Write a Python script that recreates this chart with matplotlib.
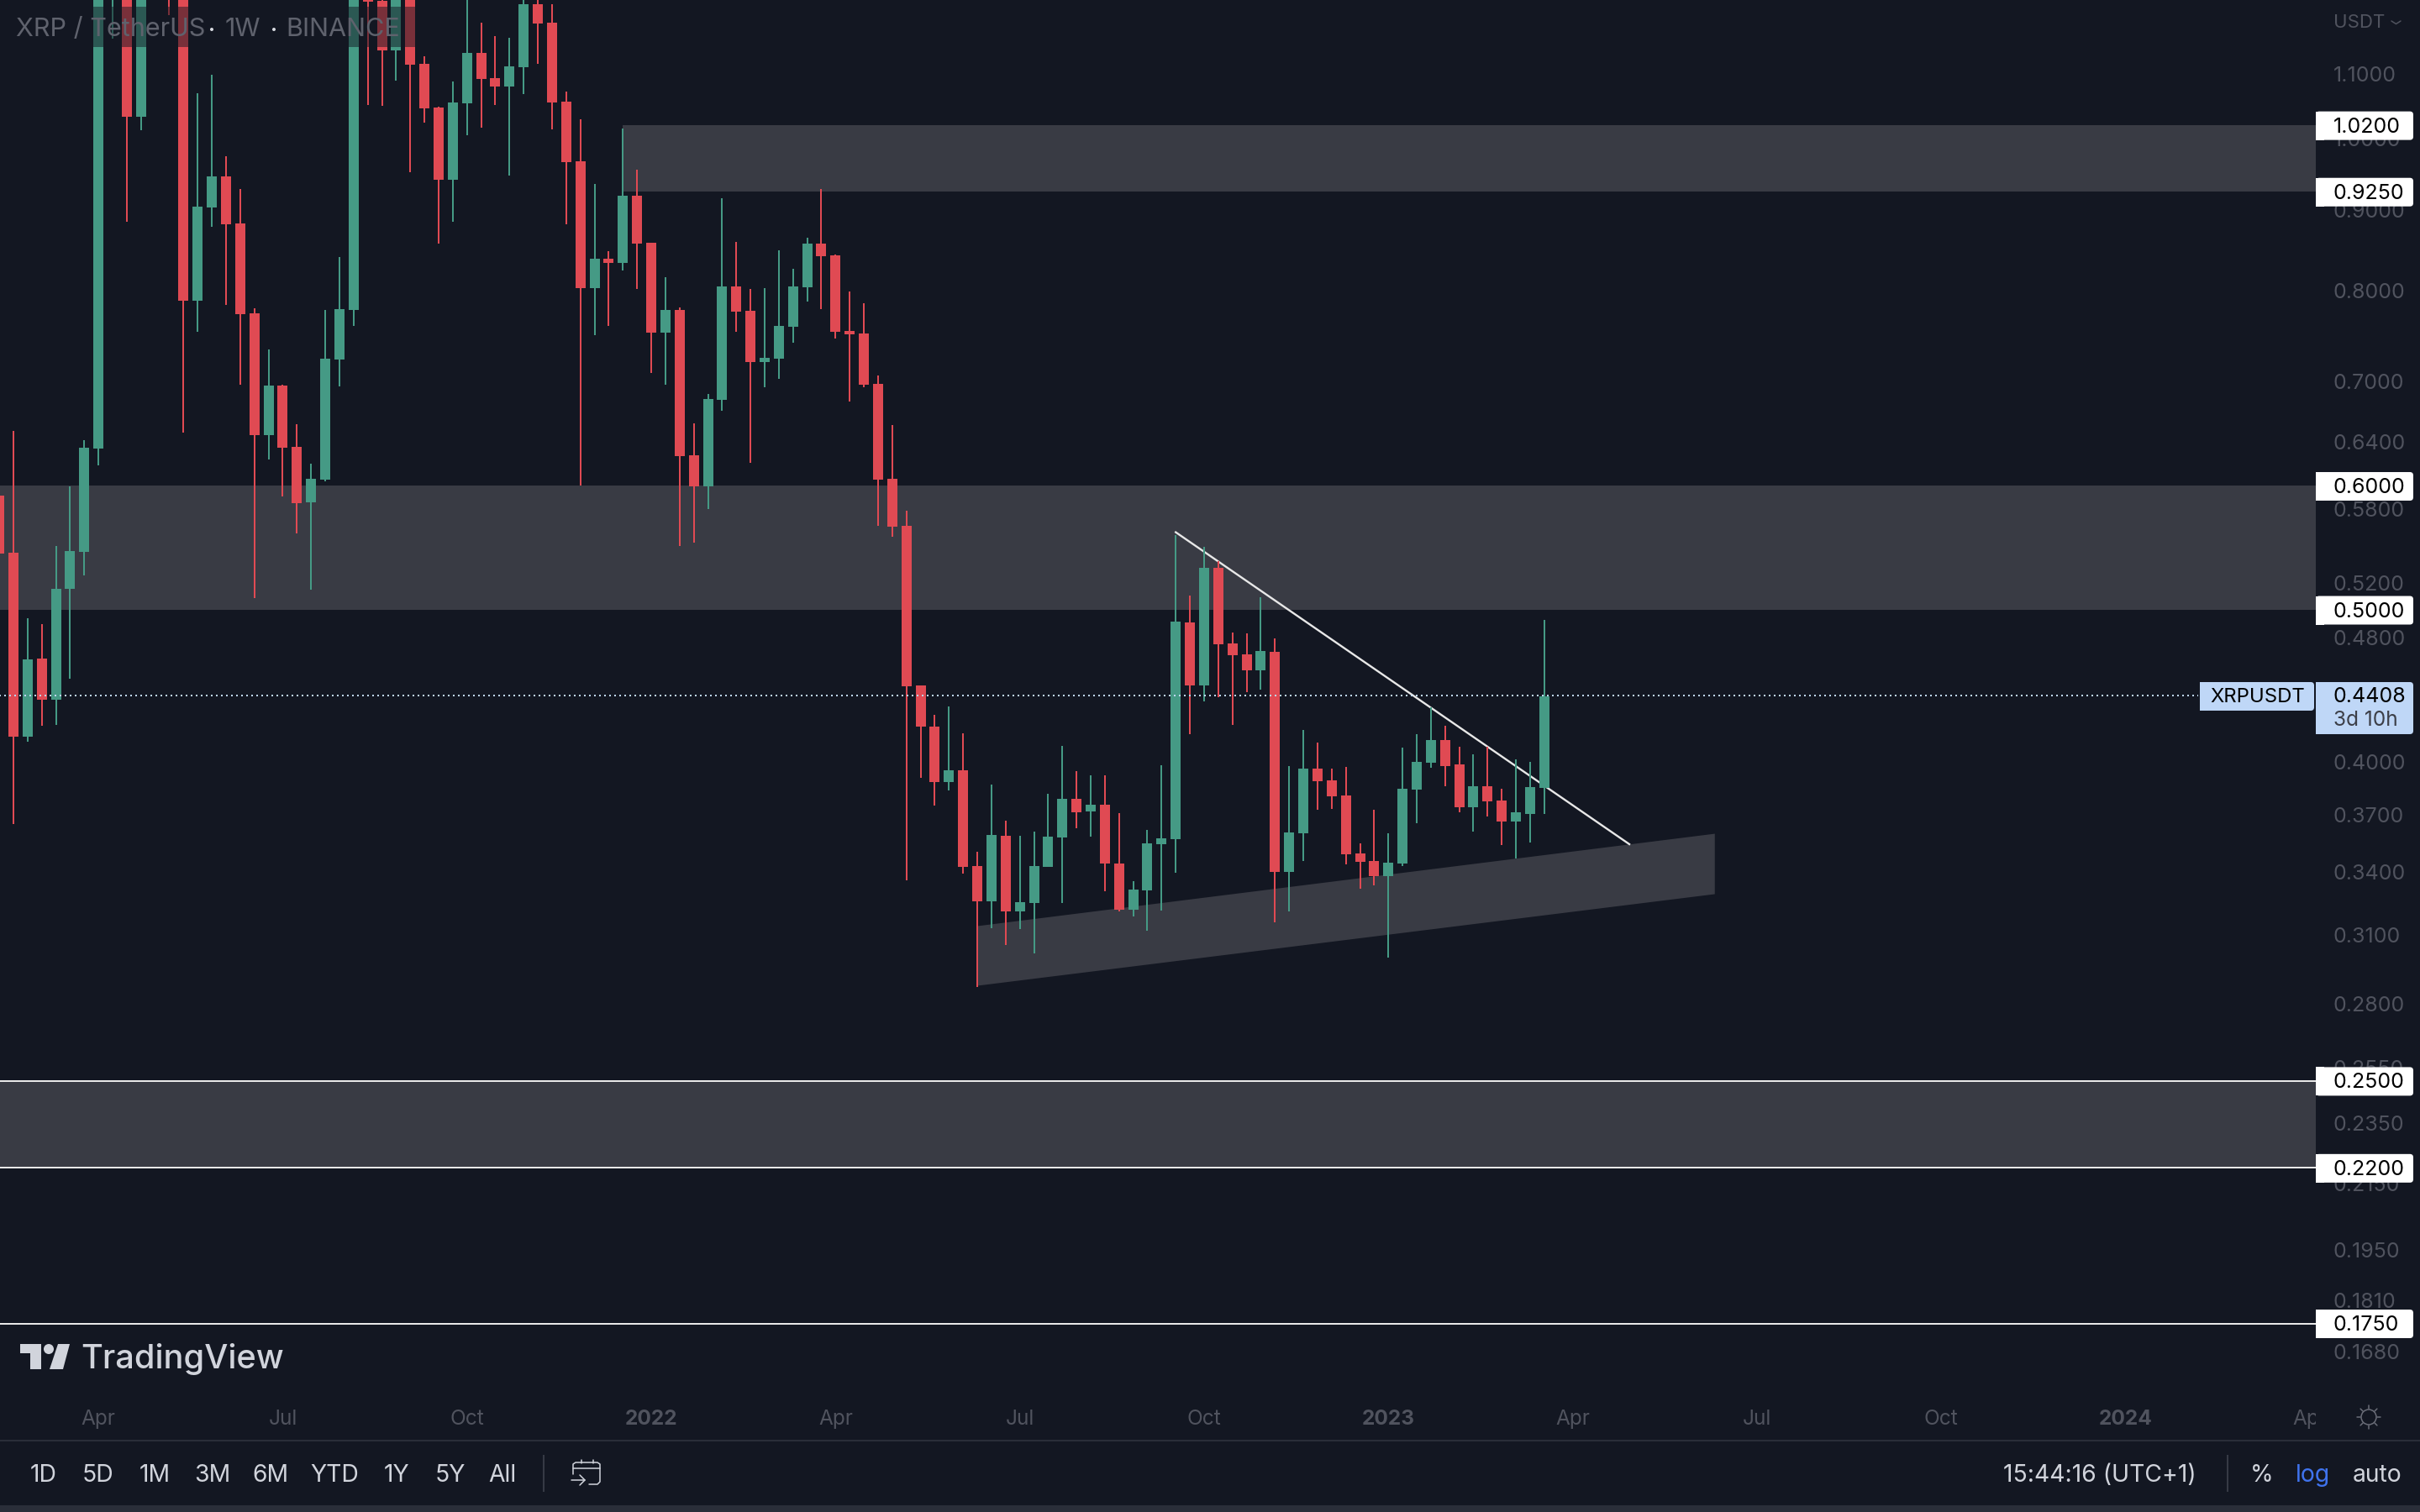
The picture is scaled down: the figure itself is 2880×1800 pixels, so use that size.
import numpy as np
import pandas as pd
import matplotlib
matplotlib.use("Agg")
import matplotlib.pyplot as plt
import matplotlib.transforms as mtransforms
from matplotlib.lines import Line2D
from matplotlib.patches import Circle, FancyBboxPatch, Polygon, Rectangle
from matplotlib.ticker import NullLocator

# weekly XRPUSDT candles, last bar is the week of 2023-03-20
opens = [0.5915, 0.5439, 0.4149, 0.4654, 0.4381, 0.5157, 0.5445, 0.6339, 1.3208, 1.5319,
         1.0328, 1.4762, 1.7768, 1.3538, 0.7879, 0.9038, 0.9461, 0.8828, 0.7735, 0.6466,
         0.6955, 0.6355, 0.5857, 0.6056, 0.7226, 0.7773, 1.2885, 1.2249, 1.1387, 1.2571,
         1.1165, 1.0470, 0.9414, 1.0535, 1.1345, 1.0932, 1.0798, 1.1109, 1.2188, 1.1861,
         1.0561, 0.9674, 0.8027, 0.8382, 0.8330, 0.9196, 0.8581, 0.7518, 0.7773, 0.6277,
         0.5996, 0.6810, 0.8047, 0.7763, 0.7200, 0.7235, 0.7583, 0.8037, 0.8570, 0.8423,
         0.7537, 0.7509, 0.6972, 0.6063, 0.5658, 0.4474, 0.4211, 0.3881, 0.3949, 0.3430,
         0.3257, 0.3586, 0.3209, 0.3248, 0.3426, 0.3577, 0.3786, 0.3717, 0.3754, 0.3443,
         0.3217, 0.3309, 0.3542, 0.3568, 0.4908, 0.4474, 0.5319, 0.4759, 0.4683, 0.4575,
         0.4701, 0.3400, 0.3599, 0.3959, 0.3891, 0.3805, 0.3494, 0.3456, 0.3380, 0.3443,
         0.3838, 0.3993, 0.4129, 0.3983, 0.3740, 0.3857, 0.3777, 0.3662, 0.3703, 0.3848]
highs = [0.6139, 0.6506, 0.4939, 0.4896, 0.5493, 0.5996, 0.6418, 1.3877, 1.6703, 1.6911,
         1.8901, 2.0105, 1.8901, 1.4224, 1.0692, 1.0987, 0.9746, 0.9287, 0.7792, 0.7334,
         0.6963, 0.6570, 0.6200, 0.7773, 0.8402, 1.3372, 1.3372, 1.2340, 1.2727, 1.2885,
         1.1289, 1.0483, 1.0879, 1.2493, 1.1861, 1.1629, 1.1601, 1.2416, 1.2309, 1.2188,
         1.0718, 1.0290, 0.9356, 0.8475, 1.0151, 0.9555, 0.8581, 0.8157, 0.7802, 0.6579,
         0.6869, 0.9162, 0.8591, 0.8017, 0.8027, 0.8486, 0.8258, 0.8645, 0.9287, 0.8434,
         0.7987, 0.7850, 0.7059, 0.6562, 0.5785, 0.4474, 0.4285, 0.4338, 0.4170, 0.3503,
         0.3867, 0.3667, 0.3586, 0.3608, 0.3815, 0.4093, 0.3944, 0.3920, 0.3920, 0.3708,
         0.3355, 0.3617, 0.3978, 0.5582, 0.5106, 0.5486, 0.5372, 0.4836, 0.4830, 0.5094,
         0.4794, 0.3973, 0.4190, 0.4113, 0.3959, 0.3969, 0.3546, 0.3726, 0.3599, 0.4083,
         0.4164, 0.4332, 0.4216, 0.4088, 0.4043, 0.4088, 0.3843, 0.4013, 0.3998, 0.4927]
lows = [0.5163, 0.3649, 0.4118, 0.4216, 0.4221, 0.4518, 0.5260, 0.6184, 1.1586, 0.8850,
        1.0126, 1.3208, 1.1994, 0.6490, 0.7527, 0.8785, 0.7831, 0.6963, 0.5087, 0.6238,
        0.5908, 0.5595, 0.5151, 0.6041, 0.6946, 0.7593, 1.0509, 1.0496, 1.0892, 0.9519,
        1.0239, 0.8570, 0.8850, 1.0051, 1.0164, 1.0509, 0.9472, 1.0679, 1.1165, 1.0139,
        0.8817, 0.6004, 0.7490, 0.7593, 0.8238, 0.8017, 0.7085, 0.6963, 0.5493, 0.5520,
        0.5800, 0.6702, 0.7527, 0.6207, 0.6938, 0.7024, 0.7407, 0.7870, 0.7783, 0.7453,
        0.6793, 0.6938, 0.5658, 0.5568, 0.3359, 0.3905, 0.3749, 0.3834, 0.3392, 0.2871,
        0.3130, 0.3054, 0.3126, 0.3016, 0.3426, 0.3248, 0.3626, 0.3582, 0.3305, 0.3209,
        0.3185, 0.3119, 0.3213, 0.3396, 0.4164, 0.4370, 0.4397, 0.4221, 0.4430, 0.4446,
        0.3157, 0.3209, 0.3456, 0.3726, 0.3731, 0.3439, 0.3317, 0.3334, 0.2998, 0.3430,
        0.3653, 0.3964, 0.3857, 0.3712, 0.3608, 0.3689, 0.3538, 0.3468, 0.3551, 0.3703]
closes = [0.5432, 0.4149, 0.4649, 0.4381, 0.5157, 0.5452, 0.6347, 1.3208, 1.4762, 1.0328,
          1.7768, 1.8901, 1.3538, 0.7879, 0.9049, 0.9461, 0.8817, 0.7725, 0.6466, 0.6955,
          0.6347, 0.5850, 0.6063, 0.7235, 0.7783, 1.2885, 1.2234, 1.1387, 1.2493, 1.1151,
          1.0457, 0.9414, 1.0548, 1.1345, 1.0919, 1.0798, 1.1123, 1.2188, 1.1847, 1.0548,
          0.9662, 0.8027, 0.8382, 0.8330, 0.9196, 0.8570, 0.7518, 0.7773, 0.6269, 0.5996,
          0.6819, 0.8047, 0.7754, 0.7200, 0.7244, 0.7593, 0.8047, 0.8570, 0.8413, 0.7527,
          0.7499, 0.6963, 0.6056, 0.5651, 0.4468, 0.4211, 0.3881, 0.3949, 0.3426, 0.3257,
          0.3590, 0.3209, 0.3253, 0.3430, 0.3582, 0.3786, 0.3712, 0.3754, 0.3443, 0.3217,
          0.3313, 0.3546, 0.3573, 0.4914, 0.4474, 0.5319, 0.4753, 0.4677, 0.4575, 0.4706,
          0.3400, 0.3604, 0.3959, 0.3886, 0.3801, 0.3490, 0.3451, 0.3380, 0.3447, 0.3843,
          0.3998, 0.4129, 0.3973, 0.3740, 0.3857, 0.3772, 0.3662, 0.3712, 0.3853, 0.4403]

price_ticks = [1.1, 1.0, 0.9, 0.8, 0.7, 0.64, 0.58, 0.52, 0.48, 0.40, 0.37, 0.34, 0.31,
               0.28, 0.255, 0.235, 0.215, 0.195, 0.181, 0.168]
tag_levels = [1.02, 0.925, 0.6, 0.5, 0.25, 0.22, 0.175]
line_levels = [0.25, 0.22, 0.175]
last_price = 0.4408
date_ticks = ["2021-04-05", "2021-07-05", "2021-10-04", "2022-01-03", "2022-04-04", "2022-07-04",
              "2022-10-03", "2023-01-02", "2023-04-03", "2023-07-03", "2023-10-02", "2024-01-01",
              "2024-04-01"]
date_labels = ["Apr", "Jul", "Oct", "2022", "Apr", "Jul", "Oct", "2023", "Apr", "Jul", "Oct", "2024", "Apr"]
wedge_dates = ["2022-06-13", "2023-06-12"]
wedge_top = [0.3142, 0.3599]
wedge_bottom = [0.2878, 0.3293]
trend_dates = ["2022-09-19", "2023-05-01"]
trend_prices = [0.5605, 0.3542]
ranges = ["1D", "5D", "1M", "3M", "6M", "YTD", "1Y", "5Y", "All"]

BG = "#131722"
ZONE = "#393b44"
GREEN = "#459a85"
RED = "#e04a53"
MUTED = "#50535e"
LIGHT = "#d1d4dc"
BLUE_TAG = "#bfd7f7"
LINE = "#e8e8e8"
W, H = 2880, 1800
PANE_R, PANE_B = 2756, 1660

plt.rcParams["font.family"] = ["Inter", "DejaVu Sans"]

fig = plt.figure(figsize=(14.4, 9), dpi=200, facecolor=BG)
# top-left origin pixel coordinates for the chrome around the chart
pix = mtransforms.Affine2D().scale(1 / W, -1 / H).translate(0, 1) + fig.transFigure

ax = fig.add_axes([0, 1 - PANE_B / H, PANE_R / W, PANE_B / H], facecolor=BG)
ax.set_yscale("log")

dates = pd.date_range(end="2023-03-20", periods=len(opens), freq="W-MON")
o = np.array(opens)
h = np.array(highs)
l = np.array(lows)
c = np.array(closes)
up = c >= o
colors = [GREEN if u else RED for u in up]

zone_right = dates[0] + pd.Timedelta(days=1144)
ax.axhspan(0.5, 0.6, color=ZONE, lw=0, zorder=1)
ax.axhspan(0.22, 0.25, color=ZONE, lw=0, zorder=1)
ax.fill_between([dates[44], zone_right], 0.925, 1.02, color=ZONE, lw=0, zorder=1)
ax.fill_between(pd.to_datetime(wedge_dates), wedge_bottom, wedge_top, color=ZONE, lw=0, zorder=1)
for lv in line_levels:
    ax.axhline(lv, color=LINE, lw=0.72, zorder=2)
ax.plot(pd.to_datetime(trend_dates), trend_prices, color=LINE, lw=0.85, zorder=2)

ax.vlines(dates, l, h, colors=colors, lw=0.72, zorder=3)
ax.bar(dates, np.abs(c - o), bottom=np.minimum(o, c), width=4.98, color=colors, lw=0, zorder=4)
ax.plot([dates[0] - pd.Timedelta(days=7), dates[0] + pd.Timedelta(days=1086)], [last_price, last_price],
        color=BLUE_TAG, lw=0.72, ls=(0, (1, 2)), zorder=5)

ax.set_xlim(dates[0] + pd.Timedelta(days=0.4), zone_right)
ax.set_ylim(0.15765, 1.2264)
for s in ax.spines.values():
    s.set_visible(False)

ax.yaxis.tick_right()
ax.set_yticks(price_ticks, labels=["%.4f" % p for p in price_ticks])
ax.yaxis.set_minor_locator(NullLocator())
ax.tick_params(axis="y", length=0, pad=7.5, labelsize=9.0, labelcolor=MUTED)
ax.set_xticks(pd.to_datetime(date_ticks), labels=date_labels)
ax.tick_params(axis="x", length=0, pad=6.6, labelsize=8.8, labelcolor=MUTED)
clip = mtransforms.Bbox([[0, 0], [PANE_R, H]])
for lab in ax.get_xticklabels():
    lab.set_clip_box(clip)
    lab.set_clip_on(True)
    if lab.get_text().isdigit():
        lab.set_fontweight("bold")


def box(x, y, w, h_, color, z=10, alpha=None):
    fig.add_artist(Rectangle((x, y), w, h_, transform=pix, facecolor=color, edgecolor="none", zorder=z, alpha=alpha))


def label(x, y, s, color=LIGHT, size=10.2, ha="center", weight="normal", z=11):
    fig.text(x, y, s, transform=pix, color=color, fontsize=size, ha=ha, va="center", fontweight=weight, zorder=z)


def stroke(xs, ys, color=LIGHT, lw=0.55, z=11):
    fig.add_artist(Line2D(xs, ys, transform=pix, color=color, lw=lw, zorder=z, solid_capstyle="round"))


def tag(x, y, w, h_, color):
    fig.add_artist(FancyBboxPatch((x + 4, y + 4), w - 8, h_ - 8, boxstyle="round,pad=4,rounding_size=4", transform=pix,
                                  facecolor=color, edgecolor="none", zorder=10))
    box(x, y, 10, h_, color)


# legend band and title over the candles
box(0, 8, 496, 48, BG, z=5, alpha=0.5)
label(19, 35, "XRP / TetherUS", color="#5f626d", size=11.0, ha="left", z=6)
label(268, 35, "1W", color="#5f626d", size=11.0, ha="left", z=6)
label(340, 35, "BINANCE", color="#5f626d", size=11.0, ha="left", z=6)
for x in (252, 326):
    fig.add_artist(Circle((x, 35), 2, transform=pix, facecolor="#d8dae0", edgecolor="none", zorder=6))

# price tags on the scale
for lv in tag_levels:
    y = H - ax.transData.transform((0, lv))[1] + 0.5
    tag(PANE_R, y - 17, 116, 34, "#ffffff")
    label(2777, y + 1.5, "%.4f" % lv, color="#000000", size=9.0, ha="left")
last_y = H - ax.transData.transform((0, last_price))[1] + 1
tag(PANE_R, last_y - 17, 116, 62, BLUE_TAG)
tag(2618, last_y - 17, 136, 34, BLUE_TAG)
label(2687, last_y + 1, "XRPUSDT", color="#000000", size=8.6)
label(2777, last_y + 1, "%.4f" % last_price, color="#000000", size=9.0, ha="left")
label(2777, last_y + 29, "3d 10h", color="#3c3f48", size=8.8, ha="left")
label(2777, 27, "USDT", color=MUTED, size=8.0, ha="left")
stroke([2846, 2851.5, 2857], [25, 28.5, 25], color=MUTED)

# TradingView mark
for pts in ([(24, 1600), (49, 1600), (49, 1630), (36, 1630), (36, 1611), (24, 1611)],
            [(69, 1600), (83, 1600), (75, 1630), (59, 1630)]):
    fig.add_artist(Polygon(pts, closed=True, transform=pix, facecolor="#d1d4dc", edgecolor="none", zorder=11))
fig.add_artist(Circle((58, 1606), 6, transform=pix, facecolor="#d1d4dc", edgecolor="none", zorder=11))
fig.text(96, 1629, "TradingView", transform=pix, color="#d1d4dc", fontsize=14.3, ha="left", va="baseline",
         fontweight=500, zorder=11)

# settings icon
for a in np.arange(0, 360, 45):
    ca, sa = np.cos(np.radians(a)), np.sin(np.radians(a))
    stroke([2819 + 10 * ca, 2819 + 14 * ca], [1687 + 10 * sa, 1687 + 14 * sa], color="#6a6d78")
fig.add_artist(Circle((2819, 1687), 9, transform=pix, facecolor="none", edgecolor="#6a6d78", lw=0.55, zorder=11))

# bottom toolbar
box(0, 1714, W, 2, "#2a2e39")
box(0, 1792, W, 8, "#2a2e39")
for s, x in zip(ranges, [52, 116, 184, 253, 322, 398, 472, 536, 598]):
    label(x, 1757, s)
box(646, 1732, 2, 44, "#363a45")
box(2650, 1732, 2, 44, "#363a45")
stroke([682, 682, 685, 711, 714, 714, 711, 701], [1755, 1743, 1741, 1741, 1743, 1764, 1767, 1767])
stroke([682, 714], [1748, 1748])
stroke([692, 692], [1738, 1742])
stroke([706, 706], [1738, 1742])
stroke([680, 696], [1762, 1762])
stroke([690, 696, 690], [1756, 1762, 1768])
label(2499, 1757, "15:44:16 (UTC+1)")
label(2692, 1757, "%")
label(2753, 1757, "log", color="#3f73ee")
label(2829, 1757, "auto")

fig.savefig("out.png", dpi=200, facecolor=BG)
